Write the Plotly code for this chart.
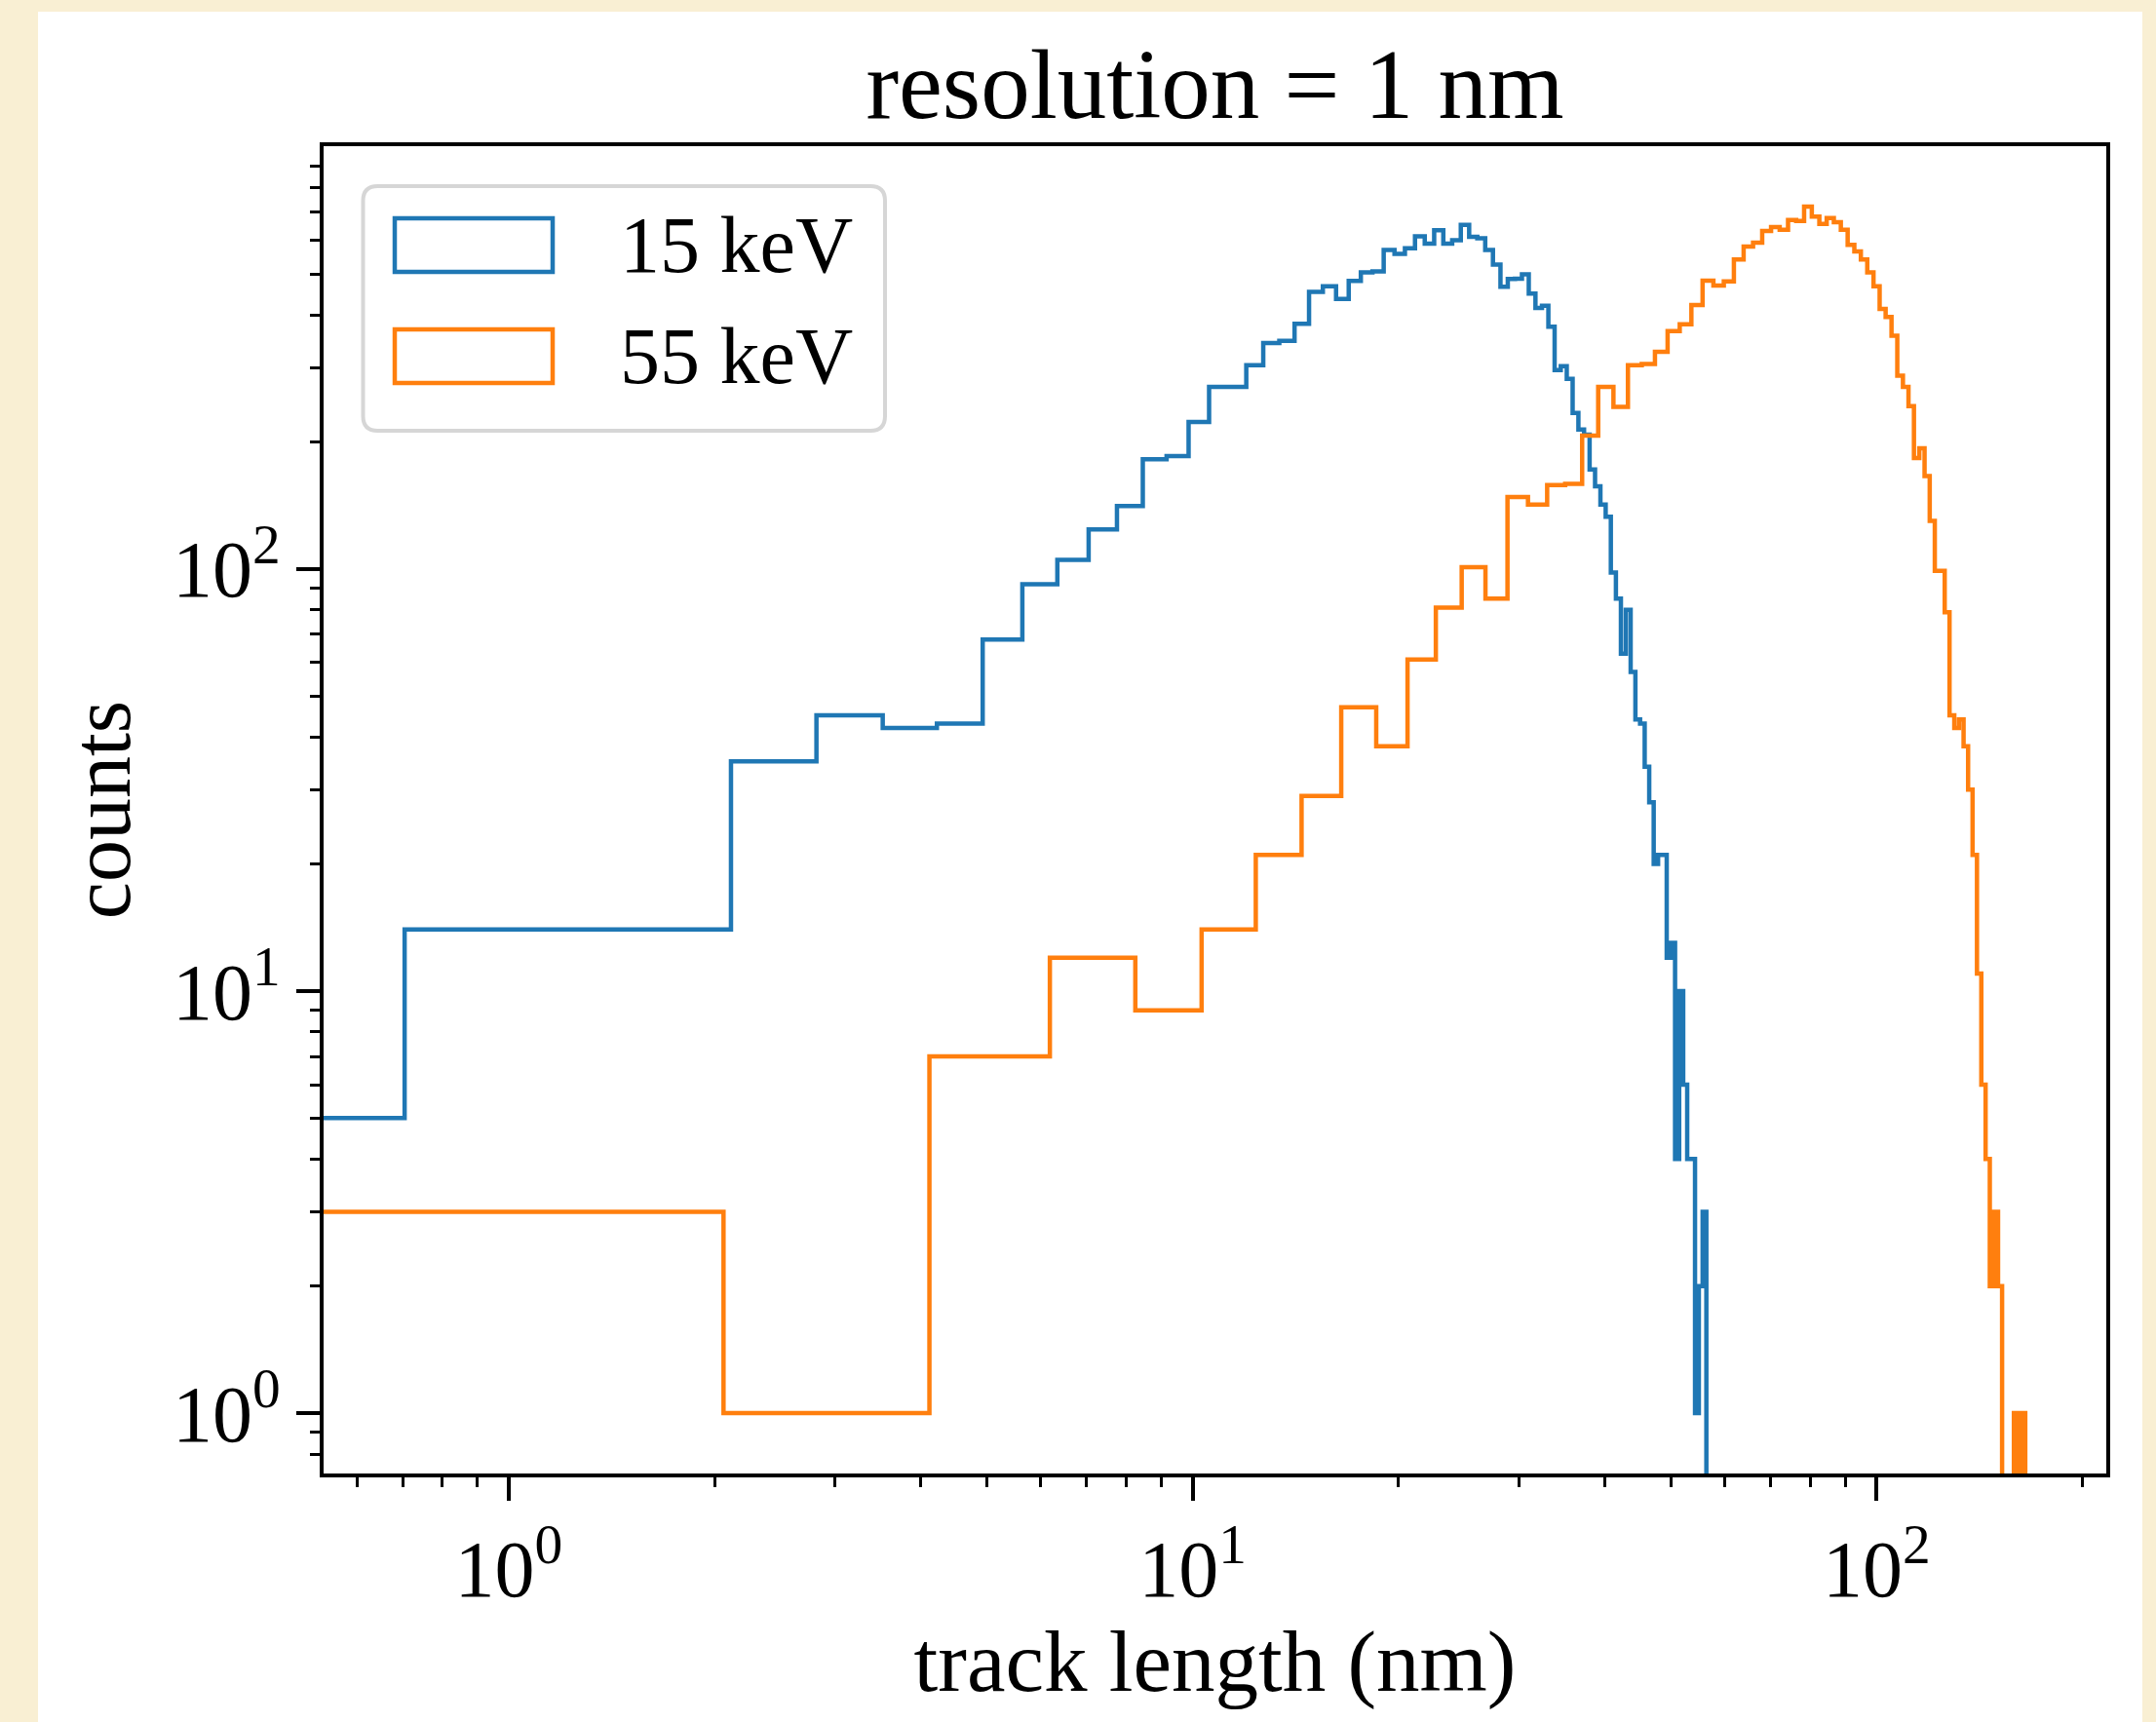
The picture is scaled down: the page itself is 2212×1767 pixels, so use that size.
import numpy as np
import plotly.graph_objects as go

# ---------------- data ----------------
N_BINS = 80                       # both histograms use 80 equal-width bins
EDGES_15KEV = [0.0, 56.36]        # histogram range (nm) of the 15 keV tracks
EDGES_55KEV = [0.0, 164.88]       # histogram range (nm) of the 55 keV tracks

COUNTS_15KEV = [
    5, 14, 14, 35, 45, 42, 43, 68, 92, 105, 124, 141, 182, 185, 223, 270, 270, 304, 343, 347,
    381, 453, 467, 436, 481, 504, 507, 570, 558, 575, 614, 590, 634, 590, 601, 653, 612, 607, 570, 526,
    466, 486, 487, 499, 449, 415, 420, 375, 296, 302, 282, 234, 214, 208, 172, 157, 142, 133, 98, 85,
    63, 80, 57, 44, 43, 34, 28, 20, 21, 21, 12, 13, 4, 10, 6, 4, 4, 1, 2, 3,
]
COUNTS_55KEV = [
    3, 1, 7, 12, 9, 14, 21, 29, 47, 38, 61, 81, 101, 85, 148, 142, 158, 159, 207, 270,
    242, 304, 306, 327, 366, 380, 422, 482, 469, 480, 541, 580, 593, 632, 645, 636, 671, 667, 722, 683,
    657, 678, 663, 636, 586, 565, 541, 504, 467, 413, 395, 357, 287, 270, 243, 183, 193, 166, 130, 99,
    99, 79, 45, 42, 44, 38, 30, 21, 11, 6, 4, 2, 3, 2, 0, 0, 0, 1, 0, 1,
]
SERIES_NAMES = ["15 keV", "55 keV"]
SERIES_COLORS = ["#1f77b4", "#ff7f0e"]

X_TICK_VALUES = [1, 10, 100]
X_TICK_LABELS = ["10<sup>0</sup>", "10<sup>1</sup>", "10<sup>2</sup>"]
Y_TICK_VALUES = [1, 10, 100]
Y_TICK_LABELS = ["10<sup>0</sup>", "10<sup>1</sup>", "10<sup>2</sup>"]
X_MINOR = [0.6, 0.7, 0.8, 0.9] + list(range(2, 10)) + list(range(20, 100, 10)) + [200]
Y_MINOR = [0.8, 0.9] + list(range(2, 10)) + list(range(20, 100, 10)) + list(range(200, 1000, 100))

TITLE = "resolution = 1 nm"
X_LABEL = "track length (nm)"
Y_LABEL = "counts"

# ---------------- layout constants ----------------
FIG_W, FIG_H = 2212, 1767
PLOT_L, PLOT_R, PLOT_T, PLOT_B = 332, 2161, 150, 1512   # plot area in pixels
FONT = "Liberation Serif, DejaVu Serif, serif"
PAGE_BG = "#f9efd3"
FLOOR = 1e-3            # stand-in for a zero count on the log axis (drawn below the axis)

PW, PH = PLOT_R - PLOT_L, PLOT_B - PLOT_T


def px(X):
    return (X - PLOT_L) / PW


def py(Y):
    return (PLOT_B - Y) / PH


fig = go.Figure()

all_pos_edges = []
for counts, rng, name, color in zip([COUNTS_15KEV, COUNTS_55KEV], [EDGES_15KEV, EDGES_55KEV],
                                    SERIES_NAMES, SERIES_COLORS):
    edges = np.linspace(rng[0], rng[1], N_BINS + 1)
    all_pos_edges.extend(edges[edges > 0].tolist())
    c = np.asarray(counts, dtype=float)
    xs = np.where(edges > 0, edges, FLOOR)
    ys = np.concatenate([np.where(c > 0, c, FLOOR), [FLOOR]])
    fig.add_trace(go.Scatter(
        x=xs, y=ys, mode="lines", name=name,
        line=dict(color=color, width=4.5, shape="hv"),
        showlegend=False, hoverinfo="skip",
    ))

# axis ranges like matplotlib's autoscale (5 % margins in log space)
lx0, lx1 = np.log10(min(all_pos_edges)), np.log10(max(all_pos_edges))
allc = [v for v in COUNTS_15KEV + COUNTS_55KEV if v > 0]
ly0, ly1 = np.log10(min(allc)), np.log10(max(allc))
mx, my = 0.05 * (lx1 - lx0), 0.05 * (ly1 - ly0)

axis_common = dict(
    type="log", showline=True, linecolor="black", linewidth=4, mirror=True,
    ticks="outside", ticklen=24, tickwidth=4, tickcolor="black",
    showgrid=False, zeroline=False, automargin=False,
    tickfont=dict(family=FONT, size=82, color="black"),
)

fig.update_layout(
    width=FIG_W, height=FIG_H,
    margin=dict(l=PLOT_L, r=FIG_W - PLOT_R, t=PLOT_T, b=FIG_H - PLOT_B, pad=0),
    template="none",
    paper_bgcolor=PAGE_BG, plot_bgcolor="white",
    font=dict(family=FONT, color="black", size=80),
    showlegend=False,
    title=dict(text=TITLE, x=0.5, xref="paper", xanchor="center",
               y=1 - 86 / FIG_H, yref="container", yanchor="middle",
               font=dict(family=FONT, size=101, color="black")),
    xaxis=dict(axis_common, range=[lx0 - mx, lx1 + mx],
               tickvals=X_TICK_VALUES, ticktext=X_TICK_LABELS,
               minor=dict(tickvals=X_MINOR, ticks="outside", ticklen=10, tickwidth=3,
                          tickcolor="black", showgrid=False),
               title=dict(text=X_LABEL, standoff=2,
                          font=dict(family=FONT, size=89, color="black"))),
    yaxis=dict(axis_common, range=[ly0 - my, ly1 + my],
               tickvals=Y_TICK_VALUES, ticktext=Y_TICK_LABELS,
               minor=dict(tickvals=Y_MINOR, ticks="outside", ticklen=10, tickwidth=3,
                          tickcolor="black", showgrid=False),
               title=dict(text=Y_LABEL, standoff=16,
                          font=dict(family=FONT, size=86, color="black"))),
)

shapes = []
# white figure sheet lying on the parchment page
shapes.append(dict(type="rect", xref="paper", yref="paper", layer="below",
                   x0=px(39), x1=px(2198), y0=py(FIG_H + 5), y1=py(12),
                   fillcolor="white", line=dict(width=0)))

# legend frame (rounded) -----------------------------------------------------
LX0, LX1, LY0, LY1, RAD = 372.5, 908.0, 191.0, 442.0, 15.0


def rounded_rect(x0, y0, x1, y1, r):
    pts = [
        ("M", [(x0 + r, y0)]), ("L", [(x1 - r, y0)]), ("Q", [(x1, y0), (x1, y0 + r)]),
        ("L", [(x1, y1 - r)]), ("Q", [(x1, y1), (x1 - r, y1)]),
        ("L", [(x0 + r, y1)]), ("Q", [(x0, y1), (x0, y1 - r)]),
        ("L", [(x0, y0 + r)]), ("Q", [(x0, y0), (x0 + r, y0)]),
    ]
    out = []
    for cmd, cps in pts:
        out.append(cmd + " ".join(f"{px(a):.5f},{py(b):.5f}" for a, b in cps))
    return " ".join(out) + " Z"


shapes.append(dict(type="path", xref="paper", yref="paper", layer="above",
                   path=rounded_rect(LX0, LY0, LX1, LY1, RAD),
                   fillcolor="white", line=dict(color="#d6d6d6", width=4)))

PATCH_X0, PATCH_X1 = 405.0, 567.0
PATCH_ROWS = [(224.0, 279.0), (338.0, 393.0)]
annotations = []
for (y0, y1), name, color in zip(PATCH_ROWS, SERIES_NAMES, SERIES_COLORS):
    shapes.append(dict(type="rect", xref="paper", yref="paper", layer="above",
                       x0=px(PATCH_X0), x1=px(PATCH_X1), y0=py(y1), y1=py(y0),
                       fillcolor="rgba(0,0,0,0)", line=dict(color=color, width=4.5)))
    annotations.append(dict(text=name, xref="paper", yref="paper", showarrow=False,
                            x=px(634), y=py((y0 + y1) / 2), xanchor="left", yanchor="middle",
                            font=dict(family=FONT, size=82, color="black")))

fig.update_layout(shapes=shapes, annotations=annotations)

fig.write_html("out.html")
